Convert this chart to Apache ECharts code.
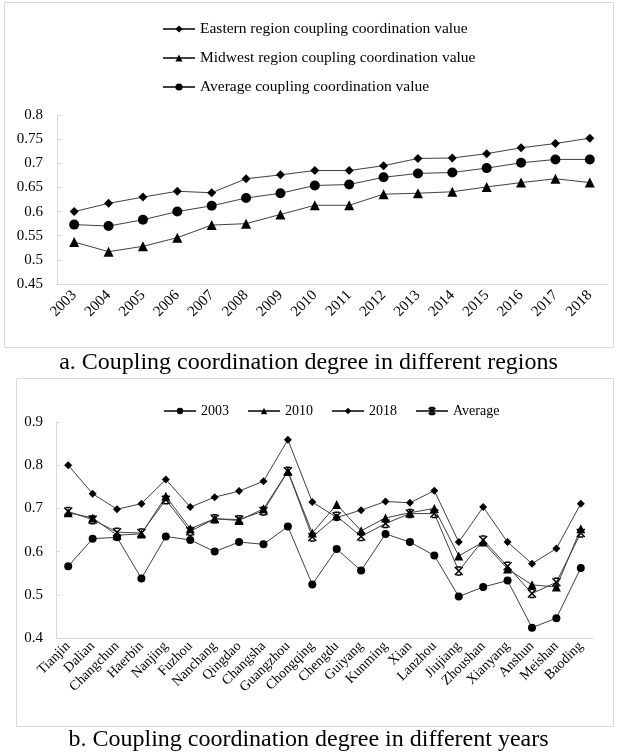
<!DOCTYPE html>
<html><head><meta charset="utf-8">
<script src="https://cdn.jsdelivr.net/npm/echarts@6/dist/echarts.min.js"></script>
<style>html,body{margin:0;padding:0;background:#fff}#c{width:617px;height:755px}</style>
</head><body><div id="c"></div>
<script>
const years = ['2003','2004','2005','2006','2007','2008','2009','2010','2011','2012','2013','2014','2015','2016','2017','2018'];
const eastern = [0.600,0.617,0.630,0.642,0.639,0.668,0.676,0.685,0.685,0.695,0.710,0.711,0.720,0.732,0.741,0.752];
const midwest = [0.537,0.517,0.528,0.546,0.572,0.575,0.594,0.613,0.613,0.636,0.638,0.641,0.651,0.660,0.668,0.660];
const average = [0.573,0.570,0.583,0.600,0.612,0.628,0.638,0.654,0.656,0.671,0.679,0.681,0.690,0.701,0.708,0.708];
const yTicksA = {min:0.45, max:0.8, interval:0.05};

const cities = ['Tianjin','Dalian','Changchun','Haerbin','Nanjing','Fuzhou','Nanchang','Qingdao','Changsha','Guangzhou','Chongqing','Chengdu','Guiyang','Kunming','Xian','Lanzhou','Jiujiang','Zhoushan','Xianyang','Anshun','Meishan','Baoding'];
const y2003 = [0.566,0.630,0.633,0.538,0.635,0.627,0.600,0.622,0.617,0.658,0.524,0.606,0.556,0.641,0.622,0.591,0.496,0.518,0.533,0.424,0.446,0.562];
const y2010 = [0.690,0.678,0.638,0.641,0.728,0.653,0.676,0.672,0.699,0.786,0.643,0.709,0.648,0.678,0.690,0.700,0.590,0.622,0.560,0.523,0.518,0.653];
const y2018 = [0.800,0.734,0.698,0.711,0.767,0.703,0.726,0.740,0.763,0.859,0.715,0.679,0.696,0.716,0.713,0.741,0.622,0.703,0.622,0.572,0.607,0.711];
const yAvg  = [0.693,0.674,0.645,0.643,0.720,0.647,0.676,0.674,0.694,0.786,0.634,0.682,0.635,0.665,0.688,0.688,0.555,0.627,0.566,0.503,0.529,0.643];
const yTicksB = {min:0.4, max:0.9, interval:0.1};

const FONT = 'Liberation Serif';
const LINE = '#404040';
const AXIS = '#d9d9d9';
const crossPath = 'path://M0,0L10,10M10,0L0,10M2,0L8,0M2,10L8,10';

function ser(name, data, symbol, size, xi, extra) {
  return Object.assign({
    name, type:'line', data, xAxisIndex:xi, yAxisIndex:xi,
    symbol, symbolSize:size, showAllSymbol:true,
    lineStyle:{color:LINE, width:1},
    itemStyle:{color:'#000'},
    emphasis:{disabled:true}, animation:false
  }, extra||{});
}

const chart = echarts.init(document.getElementById('c'), null, {renderer:'canvas'});
chart.setOption({
  animation:false,
  backgroundColor:'#fff',
  textStyle:{fontFamily:FONT},
  graphic:[
    {type:'rect', shape:{x:4.5,y:2.5,width:609,height:345}, style:{fill:'none', stroke:AXIS, lineWidth:1}},
    {type:'rect', shape:{x:16.5,y:378.5,width:597,height:348}, style:{fill:'none', stroke:AXIS, lineWidth:1}}
  ],
  title:[
    {text:'a. Coupling coordination degree in different regions', left:'center', top:351, padding:0,
     textStyle:{fontFamily:FONT, fontSize:24, fontWeight:'normal', color:'#000'}},
    {text:'b. Coupling coordination degree in different years', left:'center', top:728, padding:0,
     textStyle:{fontFamily:FONT, fontSize:24, fontWeight:'normal', color:'#000'}}
  ],
  legend:[
    {orient:'vertical', left:162, top:21, padding:0, itemGap:13, itemWidth:32, itemHeight:9,
     data:['Eastern region coupling coordination value','Midwest region coupling coordination value','Average coupling coordination value'],
     textStyle:{fontFamily:FONT, fontSize:15.5, color:'#000'}},
    {orient:'horizontal', left:163, top:404, padding:0, itemGap:18, itemWidth:32, itemHeight:8,
     data:['2003','2010','2018','Average'],
     textStyle:{fontFamily:FONT, fontSize:14, color:'#000'}}
  ],
  grid:[
    {left:57, right:10, top:115, height:169, containLabel:false},
    {left:56, right:24, top:422, height:216, containLabel:false}
  ],
  xAxis:[
    {type:'category', gridIndex:0, data:years, boundaryGap:true,
     axisLine:{lineStyle:{color:AXIS}}, axisTick:{inside:true, length:4, lineStyle:{color:AXIS}},
     axisLabel:{rotate:45, fontFamily:FONT, fontSize:15, color:'#000', margin:9, interval:0}},
    {type:'category', gridIndex:1, data:cities, boundaryGap:true,
     axisLine:{lineStyle:{color:AXIS}}, axisTick:{inside:true, length:4, lineStyle:{color:AXIS}},
     axisLabel:{rotate:45, fontFamily:FONT, fontSize:14, color:'#000', margin:6, interval:0}}
  ],
  yAxis:[
    {type:'value', gridIndex:0, min:yTicksA.min, max:yTicksA.max, interval:yTicksA.interval,
     axisLine:{show:true, lineStyle:{color:AXIS}}, axisTick:{show:true, inside:true, length:4, lineStyle:{color:AXIS}},
     splitLine:{show:false},
     axisLabel:{fontFamily:FONT, fontSize:15, color:'#000', margin:14, formatter:v=>String(+v.toFixed(2))}},
    {type:'value', gridIndex:1, min:yTicksB.min, max:yTicksB.max, interval:yTicksB.interval,
     axisLine:{show:true, lineStyle:{color:AXIS}}, axisTick:{show:true, inside:true, length:4, lineStyle:{color:AXIS}},
     splitLine:{show:false},
     axisLabel:{fontFamily:FONT, fontSize:15, color:'#000', margin:13, formatter:v=>String(+v.toFixed(1))}}
  ],
  series:[
    ser('Eastern region coupling coordination value', eastern, 'diamond', 9, 0),
    ser('Midwest region coupling coordination value', midwest, 'triangle', 10, 0),
    ser('Average coupling coordination value', average, 'circle', 10, 0),
    ser('2003', y2003, 'circle', 8, 1),
    ser('2010', y2010, 'triangle', 9, 1),
    ser('2018', y2018, 'diamond', 8, 1),
    ser('Average', yAvg, crossPath, 8, 1, {itemStyle:{color:'#000', borderColor:'#000', borderWidth:1.5}})
  ]
});
</script></body></html>
